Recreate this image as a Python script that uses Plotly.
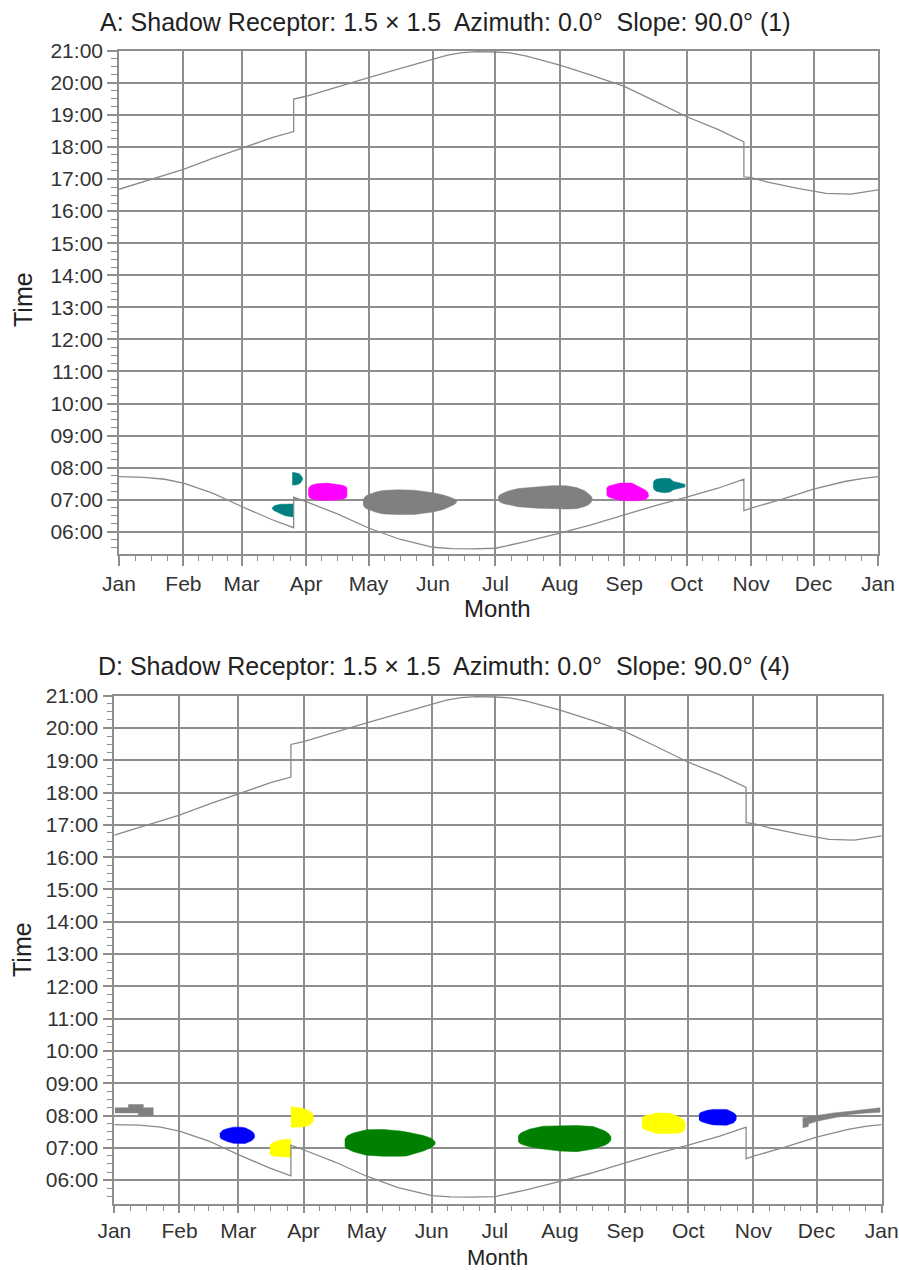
import plotly.graph_objects as go

# ---------------- data ----------------
MONTH_LABELS = ["Jan", "Feb", "Mar", "Apr", "May", "Jun", "Jul", "Aug", "Sep", "Oct", "Nov", "Dec", "Jan"]
MONTH_START_DAYS = [0, 31, 59, 90, 120, 151, 181, 212, 243, 273, 304, 334, 365]
HOUR_TICKS = list(range(6, 22))
HOUR_LABELS = ["%02d:00" % h for h in HOUR_TICKS]

TITLE_A = "A: Shadow Receptor: 1.5 × 1.5  Azimuth: 0.0°  Slope: 90.0° (1)"
TITLE_D = "D: Shadow Receptor: 1.5 × 1.5  Azimuth: 0.0°  Slope: 90.0° (4)"
X_TITLE = "Month"
Y_TITLE = "Time"

# sunrise / sunset (hours, local clock time incl. daylight saving jumps)
SUNRISE_DAYS = [0, 12, 22, 31, 45, 59, 74, 84, 84, 90, 105, 120, 135, 151, 160, 170, 181, 196, 212,
                227, 243, 258, 273, 288, 300.5, 300.5, 304, 319, 334, 349, 358, 365]
SUNRISE_TIMES = [7.72, 7.70, 7.64, 7.52, 7.21, 6.79, 6.37, 6.13, 7.08, 6.94, 6.56, 6.12, 5.77, 5.52,
                 5.48, 5.47, 5.49, 5.70, 5.96, 6.22, 6.53, 6.82, 7.08, 7.36, 7.64, 6.66, 6.74, 7.02,
                 7.33, 7.57, 7.67, 7.72]
SUNSET_DAYS = [0, 15, 31, 45, 59, 74, 84, 84, 90, 105, 120, 135, 151, 158, 165, 172, 181, 188, 196,
               212, 227, 243, 258, 273, 288, 300.5, 300.5, 304, 312, 319, 327, 334, 340, 352, 358, 365]
SUNSET_TIMES = [16.68, 16.99, 17.30, 17.64, 17.97, 18.30, 18.48, 19.49, 19.58, 19.88, 20.16, 20.44,
                20.74, 20.86, 20.94, 20.97, 20.96, 20.93, 20.83, 20.55, 20.24, 19.89, 19.42, 18.94,
                18.55, 18.16, 17.07, 17.04, 16.90, 16.80, 16.70, 16.62, 16.55, 16.53, 16.60, 16.66]

# shadow periods: (days, shadow start hour, shadow end hour)
A_TEAL_1 = ([73.7, 74.3, 75, 77.5, 80, 83.8], [6.72, 6.67, 6.64, 6.57, 6.50, 6.46],
            [6.76, 6.80, 6.82, 6.86, 6.87, 6.87])
A_TEAL_2 = ([83.3, 85, 86.5, 87.5, 88.0, 88.3], [7.46, 7.46, 7.49, 7.54, 7.58, 7.64],
            [7.86, 7.85, 7.82, 7.76, 7.72, 7.68])
A_MAGENTA_1 = ([91, 91.6, 92.5, 95, 100, 104, 107.5, 109.2, 109.6],
               [7.16, 7.07, 7.03, 6.99, 6.98, 6.99, 7.02, 7.06, 7.12],
               [7.31, 7.40, 7.45, 7.50, 7.52, 7.49, 7.45, 7.41, 7.36])
A_GRAY_1 = ([117.4, 117.9, 119, 120.7, 124, 127, 134, 142, 151, 156, 159.2, 161.3, 162.4],
            [6.86, 6.78, 6.72, 6.68, 6.60, 6.56, 6.54, 6.54, 6.62, 6.70, 6.79, 6.85, 6.92],
            [6.98, 7.06, 7.13, 7.18, 7.25, 7.29, 7.31, 7.30, 7.22, 7.15, 7.08, 7.03, 6.99])
A_GRAY_2 = ([182.4, 183.0, 184.9, 187, 192, 201, 208, 215, 220, 224, 226, 227.0, 227.5],
            [7.00, 6.94, 6.88, 6.84, 6.78, 6.74, 6.72, 6.71, 6.72, 6.79, 6.85, 6.92, 6.99],
            [7.08, 7.15, 7.21, 7.27, 7.35, 7.41, 7.44, 7.44, 7.38, 7.28, 7.19, 7.12, 7.06])
A_MAGENTA_2 = ([234.5, 235.1, 236, 238, 241, 246.6, 250.6, 253.2, 254.3, 254.7],
               [7.16, 7.10, 7.07, 7.02, 6.98, 6.97, 6.98, 7.02, 7.07, 7.12],
               [7.36, 7.41, 7.44, 7.47, 7.52, 7.52, 7.40, 7.30, 7.23, 7.17])
A_TEAL_3 = ([256.9, 257.4, 258.6, 262, 265, 266.6, 269.8, 272.2],
            [7.40, 7.31, 7.26, 7.22, 7.24, 7.31, 7.36, 7.40],
            [7.52, 7.60, 7.65, 7.67, 7.66, 7.57, 7.52, 7.48])

D_GRAY_1 = ([0.3, 6.7, 6.7, 11.4, 11.4, 13.8, 13.8, 18.5],
            [8.08, 8.08, 8.08, 8.08, 8.01, 8.01, 8.01, 8.01],
            [8.24, 8.24, 8.34, 8.34, 8.34, 8.34, 8.24, 8.24])
D_BLUE_1 = ([50.2, 50.8, 51.5, 53.5, 56.6, 60, 62.2, 65.3, 66.3, 66.7],
            [7.34, 7.28, 7.25, 7.20, 7.14, 7.13, 7.13, 7.22, 7.28, 7.33],
            [7.44, 7.50, 7.54, 7.59, 7.64, 7.64, 7.62, 7.52, 7.46, 7.40])
D_YELLOW_1 = ([74.0, 74.5, 75.5, 77.2, 80.4, 84.0], [6.84, 6.78, 6.75, 6.73, 6.71, 6.71],
              [7.04, 7.11, 7.16, 7.21, 7.26, 7.26])
D_YELLOW_2 = ([84.0, 88.3, 91.5, 93.2, 94.2, 94.7], [7.64, 7.64, 7.67, 7.72, 7.78, 7.85],
              [8.27, 8.24, 8.18, 8.12, 8.05, 7.98])
D_GREEN_1 = ([109.6, 110.2, 111, 113.7, 120, 128, 136, 139, 147, 150.5, 152.0, 152.6],
             [7.06, 6.99, 6.95, 6.88, 6.77, 6.74, 6.74, 6.75, 6.90, 7.00, 7.07, 7.12],
             [7.25, 7.33, 7.38, 7.46, 7.56, 7.57, 7.52, 7.49, 7.38, 7.30, 7.23, 7.18])
D_GREEN_2 = ([192.1, 192.8, 194, 197.7, 204, 212, 220, 227.8, 233.4, 235.3, 236.2],
             [7.21, 7.14, 7.10, 7.03, 6.96, 6.90, 6.88, 6.96, 7.08, 7.16, 7.24],
             [7.35, 7.43, 7.48, 7.58, 7.67, 7.69, 7.69, 7.66, 7.52, 7.43, 7.34])
D_YELLOW_3 = ([251.0, 251.6, 252.5, 254.8, 258, 264.3, 269, 270.8, 271.5],
              [7.66, 7.58, 7.55, 7.50, 7.44, 7.44, 7.46, 7.52, 7.60],
              [7.90, 7.96, 7.99, 8.03, 8.08, 8.07, 7.95, 7.86, 7.76])
D_BLUE_2 = ([278.1, 278.8, 280, 282, 285, 291.3, 294.4, 295.4, 295.8],
            [7.88, 7.82, 7.79, 7.75, 7.71, 7.70, 7.77, 7.83, 7.89],
            [8.02, 8.09, 8.12, 8.16, 8.19, 8.19, 8.09, 8.04, 7.99])
D_GRAY_2 = ([327.4, 330.1, 330.1, 334.1, 342, 349.9, 357.9, 364.2],
            [7.62, 7.66, 7.74, 7.82, 7.93, 8.03, 8.08, 8.10],
            [7.93, 7.96, 7.97, 8.00, 8.08, 8.13, 8.19, 8.24])

# ---------------- styles ----------------
TEAL, MAGENTA, GRAY, BLUE, YELLOW, GREEN = "#008080", "#ff00ff", "#808080", "#0000ff", "#ffff00", "#008000"
BLOBS_A = [(A_TEAL_1, TEAL), (A_TEAL_2, TEAL), (A_MAGENTA_1, MAGENTA), (A_GRAY_1, GRAY),
           (A_GRAY_2, GRAY), (A_MAGENTA_2, MAGENTA), (A_TEAL_3, TEAL)]
BLOBS_D = [(D_GRAY_1, GRAY), (D_BLUE_1, BLUE), (D_YELLOW_1, YELLOW), (D_YELLOW_2, YELLOW),
           (D_GREEN_1, GREEN), (D_GREEN_2, GREEN), (D_YELLOW_3, YELLOW), (D_BLUE_2, BLUE),
           (D_GRAY_2, GRAY)]

W, H = 899, 1270
FONT = "Liberation Sans, Arial, sans-serif"
GRID = "#8e8e8e"
CURVE = "#8a8a8a"


def px_x(x):
    return x / W


def px_y(y):
    return 1 - y / H


fig = go.Figure()


def add_panel(blobs, xa, ya):
    for (days, start, end), col in blobs:
        fig.add_trace(go.Scatter(
            x=list(days) + list(days)[::-1], y=list(end) + list(start)[::-1],
            mode="lines", fill="toself", fillcolor=col, line=dict(width=0.5, color=col),
            xaxis=xa, yaxis=ya, hoverinfo="skip", showlegend=False))
    for dd, tt in ((SUNRISE_DAYS, SUNRISE_TIMES), (SUNSET_DAYS, SUNSET_TIMES)):
        fig.add_trace(go.Scatter(x=dd, y=tt, mode="lines", line=dict(color=CURVE, width=1.3),
                                 xaxis=xa, yaxis=ya, hoverinfo="skip", showlegend=False))


add_panel(BLOBS_A, "x", "y")
add_panel(BLOBS_D, "x2", "y2")

minor_x = []
for i in range(12):
    a, b = MONTH_START_DAYS[i], MONTH_START_DAYS[i + 1]
    for k in (1, 2, 3):
        minor_x.append(a + (b - a) * k / 4)


def xaxis_cfg(x0, x1, anchor, ticklen=10):
    return dict(domain=[px_x(x0), px_x(x1)], anchor=anchor, range=[0, 365], automargin=False,
                tickmode="array", tickvals=MONTH_START_DAYS, ticktext=MONTH_LABELS,
                ticks="outside", ticklen=ticklen, tickwidth=1.5, tickcolor=GRID,
                showgrid=True, gridcolor=GRID, gridwidth=1.6,
                showline=True, linecolor=GRID, linewidth=1.6, mirror=True, zeroline=False,
                tickfont=dict(family=FONT, size=21, color="#333333"),
                minor=dict(tickmode="array", tickvals=minor_x, ticks="outside", ticklen=5,
                           tickwidth=1.2, tickcolor=GRID, showgrid=False))


def yaxis_cfg(top_px, bot_px, ymin, anchor):
    return dict(domain=[px_y(bot_px), px_y(top_px)], anchor=anchor, range=[ymin, 21],
                automargin=False,
                tickmode="array", tickvals=HOUR_TICKS, ticktext=HOUR_LABELS,
                ticks="outside", ticklen=10, tickwidth=1.5, tickcolor=GRID,
                showgrid=True, gridcolor=GRID, gridwidth=1.6,
                showline=True, linecolor=GRID, linewidth=1.6, mirror=True, zeroline=False,
                tickfont=dict(family=FONT, size=21, color="#333333"),
                minor=dict(dtick=0.25, tick0=0, ticks="outside", ticklen=6,
                           tickwidth=1.2, tickcolor=GRID, showgrid=False))


def label(text, x, y, size, angle=0):
    return dict(text=text, x=px_x(x), y=px_y(y), xref="paper", yref="paper",
                showarrow=False, xanchor="center", yanchor="middle", textangle=angle,
                borderpad=0, font=dict(family=FONT, size=size, color="#222222"))


fig.update_layout(
    width=W, height=H, margin=dict(l=0, r=0, t=0, b=0, autoexpand=False),
    paper_bgcolor="white", plot_bgcolor="white", showlegend=False,
    xaxis=xaxis_cfg(119, 878, "y"),
    yaxis=yaxis_cfg(50.7, 554, 5.31, "x"),
    xaxis2=xaxis_cfg(114.3, 881.7, "y2", ticklen=7),
    yaxis2=yaxis_cfg(695.7, 1204, 5.26, "x2"),
    annotations=[
        label(TITLE_A, 445, 22, 25),
        label(TITLE_D, 444, 666, 25),
        label(X_TITLE, 497, 608, 24),
        label(X_TITLE, 497, 1257, 22),
        label(Y_TITLE, 23, 300, 25, -90),
        label(Y_TITLE, 22, 950, 25, -90),
    ],
)

fig.write_html("out.html", config={"displayModeBar": False},
               post_script="document.body.style.margin='0';document.body.style.overflow='hidden';")
